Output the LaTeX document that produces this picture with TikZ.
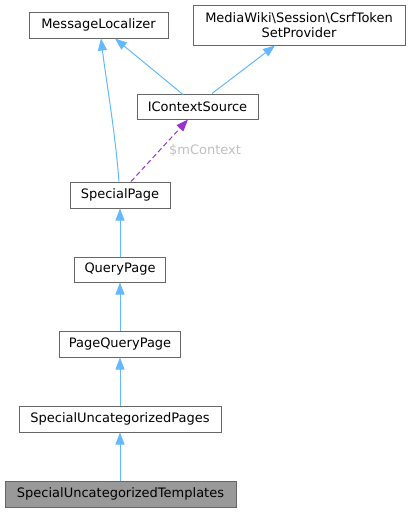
\documentclass[tikz,border=0pt]{standalone}
\usepackage{fontspec}
\setmainfont{DejaVu Sans}
\usetikzlibrary{arrows.meta}
\definecolor{edgeblue}{HTML}{63B8FF}
\definecolor{edgepurple}{HTML}{9A32CD}
\definecolor{boxgray}{HTML}{666666}
\definecolor{labelgray}{HTML}{BFBFBF}
\definecolor{fillgray}{HTML}{999999}
\begin{document}
\begin{tikzpicture}[x=1pt,y=-1pt,
  cls/.style={draw=boxgray, line width=1pt, fill=white, inner sep=0pt, align=center,
    font=\fontsize{13}{15}\selectfont, text=black},
  inh/.style={draw=edgeblue, line width=1pt, -{Triangle[width=9pt,length=12pt]}},
  use/.style={draw=edgepurple, line width=1pt, dash pattern=on 5pt off 3pt, -{Triangle[width=9pt,length=12pt]}},
]
\useasboundingbox (0,0) rectangle (411,512);
\node[cls, minimum width=139, minimum height=26] (ml) at (98.5,25) {MessageLocalizer};
\node[cls, minimum width=212, minimum height=40] (csrf) at (299,25) {MediaWiki\textbackslash Session\textbackslash CsrfToken\\SetProvider};
\node[cls, minimum width=121, minimum height=25] (ics) at (197.5,106.5) {IContextSource};
\node[cls, minimum width=100, minimum height=26] (sp) at (120,195) {SpecialPage};
\node[cls, minimum width=91, minimum height=25] (qp) at (120,269.5) {QueryPage};
\node[cls, minimum width=121, minimum height=26] (pqp) at (120,344) {PageQueryPage};
\node[cls, minimum width=202, minimum height=26] (sucp) at (120,419) {SpecialUncategorizedPages};
\node[cls, minimum width=231, minimum height=26, fill=fillgray] (suct) at (120.5,494) {SpecialUncategorizedTemplates};
\node[text=labelgray, font=\fontsize{13}{15}\selectfont, inner sep=0pt] (lbl) at (205,151) {\$mContext};

\draw[inh] (sp.north -| 119,0) .. controls (115,130) and (106,80) .. (101,38.5);
\draw[inh] (ics.south -| 183,0) ++(0,-25) -- (115,38.5);
\draw[inh] (ics.north -| 212,0) -- (275,45.5);
\draw[use] (sp.north -| 131,0) -- (188,119.5);
\draw[inh] (qp.north -| 120,0) -- (sp.south -| 120,0);
\draw[inh] (pqp.north -| 120,0) -- (qp.south -| 120,0);
\draw[inh] (sucp.north -| 120,0) -- (pqp.south -| 120,0);
\draw[inh] (suct.north -| 120,0) -- (sucp.south -| 120,0);
\end{tikzpicture}
\end{document}
